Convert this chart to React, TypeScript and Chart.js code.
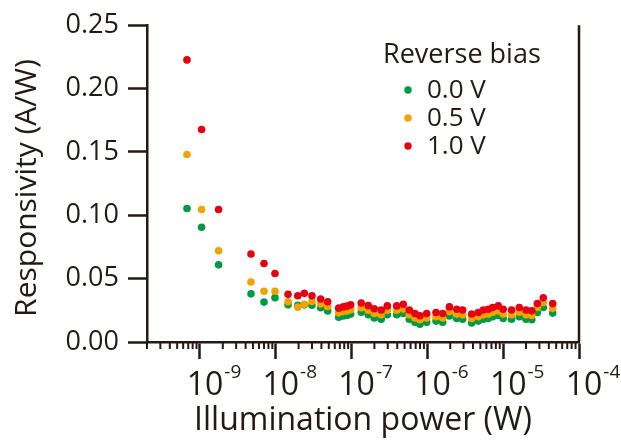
import React, { useEffect, useRef } from "react";
import { Chart, registerables } from "chart.js";

Chart.register(...registerables);

// ---------- data ----------
const powerW = [
  6.74e-10, 1.05e-9, 1.76e-9, 4.71e-9, 6.99e-9, 9.76e-9, 1.45e-8, 1.95e-8, 2.38e-8, 3.0e-8,
  3.91e-8, 4.84e-8, 6.76e-8, 7.77e-8, 8.7e-8, 9.73e-8, 1.34e-7, 1.66e-7, 1.99e-7, 2.46e-7,
  2.96e-7, 3.94e-7, 4.81e-7, 5.77e-7, 6.86e-7, 7.98e-7, 9.79e-7, 1.3e-6, 1.59e-6, 1.95e-6,
  2.44e-6, 2.92e-6, 3.84e-6, 4.69e-6, 5.47e-6, 6.36e-6, 7.26e-6, 8.61e-6, 1.0e-5, 1.29e-5,
  1.63e-5, 2.0e-5, 2.38e-5, 2.82e-5, 3.38e-5, 4.5e-5,
];

const resp00V = [
  0.1054, 0.0906, 0.0609, 0.038, 0.0315, 0.035, 0.0293, 0.029, 0.0293, 0.029,
  0.027, 0.0245, 0.0195, 0.0205, 0.021, 0.022, 0.0235, 0.0215, 0.019, 0.018,
  0.0215, 0.0215, 0.0225, 0.018, 0.0155, 0.014, 0.0155, 0.0165, 0.0155, 0.0205,
  0.0185, 0.018, 0.015, 0.0165, 0.018, 0.0185, 0.02, 0.021, 0.0185, 0.018,
  0.02, 0.018, 0.0175, 0.0233, 0.0272, 0.0228,
];

const resp05V = [
  0.148, 0.1046, 0.072, 0.0474, 0.0401, 0.0401, 0.0318, 0.0275, 0.0298, 0.032,
  0.03, 0.028, 0.023, 0.024, 0.0245, 0.0255, 0.027, 0.025, 0.0225, 0.0215,
  0.025, 0.025, 0.026, 0.0215, 0.019, 0.0175, 0.019, 0.02, 0.019, 0.024,
  0.022, 0.0215, 0.0185, 0.02, 0.0215, 0.022, 0.0235, 0.0245, 0.022, 0.0215,
  0.0235, 0.0215, 0.021, 0.0272, 0.0311, 0.0266,
];

const resp10V = [
  0.2226, 0.1677, 0.1046, 0.0694, 0.0619, 0.0541, 0.0376, 0.0365, 0.0384, 0.0365,
  0.0339, 0.0318, 0.0267, 0.0277, 0.0283, 0.0293, 0.0308, 0.0287, 0.0262, 0.0252,
  0.0285, 0.0285, 0.0298, 0.0252, 0.0225, 0.0207, 0.0225, 0.0233, 0.0225, 0.0277,
  0.0259, 0.0252, 0.0221, 0.0233, 0.0252, 0.0259, 0.0272, 0.0285, 0.0259, 0.0252,
  0.0272, 0.0252, 0.0246, 0.0303, 0.0349, 0.0303,
];

const seriesLabels = ["0.0 V", "0.5 V", "1.0 V"];
const legendTitle = "Reverse bias";
const xTitle = "Illumination power (W)";
const yTitle = "Responsivity (A/W)";
const yTickValues = [0, 0.05, 0.1, 0.15, 0.2, 0.25];
const xDecades = [-9, -8, -7, -6, -5, -4];
const X_MIN = 2e-10;
const X_MAX = 1e-4;

// ---------- styles ----------
const INK = "#231916";
const COLORS = ["#009944", "#F3A200", "#E60012"];
const FONT = "'Open Sans', 'Noto Sans', sans-serif";

const decorPlugin = {
  id: "decor",
  afterDraw(chart: any) {
    const { ctx, chartArea, scales } = chart;
    const xs = scales.x;
    ctx.save();

    // minor ticks on x axis
    ctx.strokeStyle = INK;
    ctx.lineWidth = 2;
    for (let d = -10; d <= -5; d++) {
      for (let m = 2; m <= 9; m++) {
        const v = m * Math.pow(10, d);
        if (v < X_MIN * 0.999 || v > X_MAX * 1.001) continue;
        const px = xs.getPixelForValue(v);
        ctx.beginPath();
        ctx.moveTo(px, chartArea.bottom);
        ctx.lineTo(px, chartArea.bottom + 7);
        ctx.stroke();
      }
    }

    // right border
    ctx.lineWidth = 2.5;
    ctx.beginPath();
    ctx.moveTo(chartArea.right, chartArea.top);
    ctx.lineTo(chartArea.right, chartArea.bottom);
    ctx.stroke();

    // x tick labels 10^n
    ctx.fillStyle = INK;
    ctx.textBaseline = "alphabetic";
    ctx.textAlign = "left";
    for (const d of xDecades) {
      const px = xs.getPixelForValue(Math.pow(10, d));
      ctx.font = `32px ${FONT}`;
      const w = ctx.measureText("10").width;
      const left = px + 5 - w / 2;
      ctx.fillText("10", left, 395);
      ctx.font = `19px ${FONT}`;
      ctx.fillText(String(d), left + w + 1, 378);
    }

    // y title
    ctx.save();
    ctx.translate(27, 188);
    ctx.rotate(-Math.PI / 2);
    ctx.font = `30px ${FONT}`;
    ctx.textAlign = "center";
    ctx.textBaseline = "middle";
    ctx.fillText(yTitle, 0, 0);
    ctx.restore();

    // legend
    ctx.font = `27px ${FONT}`;
    ctx.textAlign = "left";
    ctx.textBaseline = "alphabetic";
    ctx.fillText(legendTitle, 383, 63);
    ctx.font = `26px ${FONT}`;
    seriesLabels.forEach((lab, i) => {
      const cy = 90 + i * 28;
      ctx.fillStyle = COLORS[i];
      ctx.beginPath();
      ctx.arc(408, cy, 3.7, 0, Math.PI * 2);
      ctx.fill();
      ctx.fillStyle = INK;
      ctx.fillText(lab, 427, 98 + i * 28);
    });

    ctx.restore();
  },
};

export default function App() {
  const ref = useRef<HTMLCanvasElement | null>(null);

  useEffect(() => {
    document.body.style.margin = "0";
    const canvas = ref.current;
    if (!canvas) return;
    const series = [resp00V, resp05V, resp10V];
    const datasets = series.map((vals, i) => ({
      label: seriesLabels[i],
      data: powerW.map((x, j) => ({ x, y: vals[j] })),
      backgroundColor: COLORS[i],
      pointBackgroundColor: COLORS[i],
      pointBorderWidth: 0,
      pointRadius: 3.8,
      pointHoverRadius: 3.8,
      showLine: false,
      order: 2 - i,
    }));

    const chart = new Chart(canvas, {
      type: "scatter",
      data: { datasets },
      options: {
        animation: false,
        responsive: false,
        devicePixelRatio: 1,
        layout: { padding: { top: 20, right: 42, left: 0, bottom: 0 } },
        plugins: { legend: { display: false }, tooltip: { enabled: false } },
        scales: {
          x: {
            type: "logarithmic",
            min: X_MIN,
            max: X_MAX,
            position: "bottom",
            afterBuildTicks: (s: any) => {
              s.ticks = xDecades.map((d) => ({ value: Math.pow(10, d), major: true }));
            },
            afterFit: (s: any) => {
              s.height = 102;
            },
            ticks: { display: false },
            grid: {
              drawOnChartArea: false,
              drawTicks: true,
              tickLength: 17,
              tickWidth: 2.5,
              tickColor: INK,
            },
            border: { display: true, color: INK, width: 2.5 },
            title: {
              display: true,
              text: xTitle,
              color: INK,
              font: { family: FONT, size: 32 },
              padding: { top: 0, bottom: 4 },
            },
          },
          y: {
            type: "linear",
            min: 0,
            max: 0.25,
            afterBuildTicks: (s: any) => {
              s.ticks = yTickValues.map((v) => ({ value: v }));
            },
            afterFit: (s: any) => {
              s.width = 147;
            },
            ticks: {
              color: INK,
              font: { family: FONT, size: 27 },
              padding: 9,
              callback: (v: any) => Number(v).toFixed(2),
            },
            grid: {
              drawOnChartArea: false,
              drawTicks: true,
              tickLength: 19,
              tickWidth: 2.5,
              tickColor: INK,
            },
            border: { display: true, color: INK, width: 2.5 },
          },
        },
      },
      plugins: [decorPlugin],
    });

    return () => chart.destroy();
  }, []);

  return (
    <div style={{ width: 621, height: 444 }}>
      <canvas ref={ref} width={621} height={444} style={{ display: "block" }} />
    </div>
  );
}
